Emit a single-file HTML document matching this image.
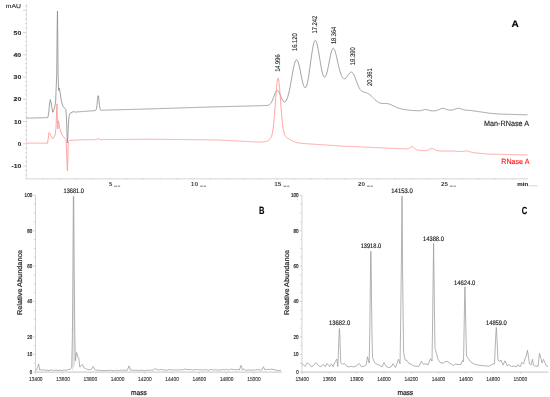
<!DOCTYPE html>
<html><head><meta charset="utf-8"><style>
html,body{margin:0;padding:0;background:#fff;}
body{width:550px;height:397px;overflow:hidden;}
svg{display:block;font-family:"Liberation Sans", sans-serif;will-change:transform;text-rendering:geometricPrecision;}
</style></head><body>
<svg width="550" height="397" viewBox="0 0 550 397">
<rect width="550" height="397" fill="#fff"/>
<line x1="26.6" y1="3.5" x2="26.6" y2="178.5" stroke="#e4e4e4" stroke-width="1"/>
<line x1="26" y1="178.8" x2="528" y2="178.8" stroke="#e4e4e4" stroke-width="1.6"/>
<line x1="25.3" y1="174.95" x2="26.9" y2="174.95" stroke="#b8b8b8" stroke-width="0.7"/>
<line x1="25.3" y1="170.50" x2="26.9" y2="170.50" stroke="#b8b8b8" stroke-width="0.7"/>
<line x1="23.2" y1="166.05" x2="26.8" y2="166.05" stroke="#c8c8c8" stroke-width="0.8"/>
<line x1="25.3" y1="161.60" x2="26.9" y2="161.60" stroke="#b8b8b8" stroke-width="0.7"/>
<line x1="25.3" y1="157.15" x2="26.9" y2="157.15" stroke="#b8b8b8" stroke-width="0.7"/>
<line x1="25.3" y1="152.70" x2="26.9" y2="152.70" stroke="#b8b8b8" stroke-width="0.7"/>
<line x1="25.3" y1="148.25" x2="26.9" y2="148.25" stroke="#b8b8b8" stroke-width="0.7"/>
<line x1="23.2" y1="143.80" x2="26.8" y2="143.80" stroke="#c8c8c8" stroke-width="0.8"/>
<line x1="25.3" y1="139.35" x2="26.9" y2="139.35" stroke="#b8b8b8" stroke-width="0.7"/>
<line x1="25.3" y1="134.90" x2="26.9" y2="134.90" stroke="#b8b8b8" stroke-width="0.7"/>
<line x1="25.3" y1="130.45" x2="26.9" y2="130.45" stroke="#b8b8b8" stroke-width="0.7"/>
<line x1="25.3" y1="126.00" x2="26.9" y2="126.00" stroke="#b8b8b8" stroke-width="0.7"/>
<line x1="23.2" y1="121.55" x2="26.8" y2="121.55" stroke="#c8c8c8" stroke-width="0.8"/>
<line x1="25.3" y1="117.10" x2="26.9" y2="117.10" stroke="#b8b8b8" stroke-width="0.7"/>
<line x1="25.3" y1="112.65" x2="26.9" y2="112.65" stroke="#b8b8b8" stroke-width="0.7"/>
<line x1="25.3" y1="108.20" x2="26.9" y2="108.20" stroke="#b8b8b8" stroke-width="0.7"/>
<line x1="25.3" y1="103.75" x2="26.9" y2="103.75" stroke="#b8b8b8" stroke-width="0.7"/>
<line x1="23.2" y1="99.30" x2="26.8" y2="99.30" stroke="#c8c8c8" stroke-width="0.8"/>
<line x1="25.3" y1="94.85" x2="26.9" y2="94.85" stroke="#b8b8b8" stroke-width="0.7"/>
<line x1="25.3" y1="90.40" x2="26.9" y2="90.40" stroke="#b8b8b8" stroke-width="0.7"/>
<line x1="25.3" y1="85.95" x2="26.9" y2="85.95" stroke="#b8b8b8" stroke-width="0.7"/>
<line x1="25.3" y1="81.50" x2="26.9" y2="81.50" stroke="#b8b8b8" stroke-width="0.7"/>
<line x1="23.2" y1="77.05" x2="26.8" y2="77.05" stroke="#c8c8c8" stroke-width="0.8"/>
<line x1="25.3" y1="72.60" x2="26.9" y2="72.60" stroke="#b8b8b8" stroke-width="0.7"/>
<line x1="25.3" y1="68.15" x2="26.9" y2="68.15" stroke="#b8b8b8" stroke-width="0.7"/>
<line x1="25.3" y1="63.70" x2="26.9" y2="63.70" stroke="#b8b8b8" stroke-width="0.7"/>
<line x1="25.3" y1="59.25" x2="26.9" y2="59.25" stroke="#b8b8b8" stroke-width="0.7"/>
<line x1="23.2" y1="54.80" x2="26.8" y2="54.80" stroke="#c8c8c8" stroke-width="0.8"/>
<line x1="25.3" y1="50.35" x2="26.9" y2="50.35" stroke="#b8b8b8" stroke-width="0.7"/>
<line x1="25.3" y1="45.90" x2="26.9" y2="45.90" stroke="#b8b8b8" stroke-width="0.7"/>
<line x1="25.3" y1="41.45" x2="26.9" y2="41.45" stroke="#b8b8b8" stroke-width="0.7"/>
<line x1="25.3" y1="37.00" x2="26.9" y2="37.00" stroke="#b8b8b8" stroke-width="0.7"/>
<line x1="23.2" y1="32.55" x2="26.8" y2="32.55" stroke="#c8c8c8" stroke-width="0.8"/>
<line x1="25.3" y1="28.10" x2="26.9" y2="28.10" stroke="#b8b8b8" stroke-width="0.7"/>
<line x1="25.3" y1="23.65" x2="26.9" y2="23.65" stroke="#b8b8b8" stroke-width="0.7"/>
<line x1="25.3" y1="19.20" x2="26.9" y2="19.20" stroke="#b8b8b8" stroke-width="0.7"/>
<line x1="25.3" y1="14.75" x2="26.9" y2="14.75" stroke="#b8b8b8" stroke-width="0.7"/>
<line x1="23.2" y1="10.30" x2="26.8" y2="10.30" stroke="#c8c8c8" stroke-width="0.8"/>
<line x1="25.3" y1="5.85" x2="26.9" y2="5.85" stroke="#b8b8b8" stroke-width="0.7"/>
<line x1="26.00" y1="178.0" x2="26.00" y2="179.6" stroke="#cfcfcf" stroke-width="0.7"/>
<line x1="42.76" y1="178.0" x2="42.76" y2="179.6" stroke="#cfcfcf" stroke-width="0.7"/>
<line x1="59.52" y1="178.0" x2="59.52" y2="179.6" stroke="#cfcfcf" stroke-width="0.7"/>
<line x1="76.28" y1="178.0" x2="76.28" y2="179.6" stroke="#cfcfcf" stroke-width="0.7"/>
<line x1="93.04" y1="178.0" x2="93.04" y2="179.6" stroke="#cfcfcf" stroke-width="0.7"/>
<line x1="109.80" y1="178.0" x2="109.80" y2="179.6" stroke="#cfcfcf" stroke-width="0.7"/>
<line x1="126.56" y1="178.0" x2="126.56" y2="179.6" stroke="#cfcfcf" stroke-width="0.7"/>
<line x1="143.32" y1="178.0" x2="143.32" y2="179.6" stroke="#cfcfcf" stroke-width="0.7"/>
<line x1="160.08" y1="178.0" x2="160.08" y2="179.6" stroke="#cfcfcf" stroke-width="0.7"/>
<line x1="176.84" y1="178.0" x2="176.84" y2="179.6" stroke="#cfcfcf" stroke-width="0.7"/>
<line x1="193.60" y1="178.0" x2="193.60" y2="179.6" stroke="#cfcfcf" stroke-width="0.7"/>
<line x1="210.36" y1="178.0" x2="210.36" y2="179.6" stroke="#cfcfcf" stroke-width="0.7"/>
<line x1="227.12" y1="178.0" x2="227.12" y2="179.6" stroke="#cfcfcf" stroke-width="0.7"/>
<line x1="243.88" y1="178.0" x2="243.88" y2="179.6" stroke="#cfcfcf" stroke-width="0.7"/>
<line x1="260.64" y1="178.0" x2="260.64" y2="179.6" stroke="#cfcfcf" stroke-width="0.7"/>
<line x1="277.40" y1="178.0" x2="277.40" y2="179.6" stroke="#cfcfcf" stroke-width="0.7"/>
<line x1="294.16" y1="178.0" x2="294.16" y2="179.6" stroke="#cfcfcf" stroke-width="0.7"/>
<line x1="310.92" y1="178.0" x2="310.92" y2="179.6" stroke="#cfcfcf" stroke-width="0.7"/>
<line x1="327.68" y1="178.0" x2="327.68" y2="179.6" stroke="#cfcfcf" stroke-width="0.7"/>
<line x1="344.44" y1="178.0" x2="344.44" y2="179.6" stroke="#cfcfcf" stroke-width="0.7"/>
<line x1="361.20" y1="178.0" x2="361.20" y2="179.6" stroke="#cfcfcf" stroke-width="0.7"/>
<line x1="377.96" y1="178.0" x2="377.96" y2="179.6" stroke="#cfcfcf" stroke-width="0.7"/>
<line x1="394.72" y1="178.0" x2="394.72" y2="179.6" stroke="#cfcfcf" stroke-width="0.7"/>
<line x1="411.48" y1="178.0" x2="411.48" y2="179.6" stroke="#cfcfcf" stroke-width="0.7"/>
<line x1="428.24" y1="178.0" x2="428.24" y2="179.6" stroke="#cfcfcf" stroke-width="0.7"/>
<line x1="445.00" y1="178.0" x2="445.00" y2="179.6" stroke="#cfcfcf" stroke-width="0.7"/>
<line x1="461.76" y1="178.0" x2="461.76" y2="179.6" stroke="#cfcfcf" stroke-width="0.7"/>
<line x1="478.52" y1="178.0" x2="478.52" y2="179.6" stroke="#cfcfcf" stroke-width="0.7"/>
<line x1="495.28" y1="178.0" x2="495.28" y2="179.6" stroke="#cfcfcf" stroke-width="0.7"/>
<line x1="512.04" y1="178.0" x2="512.04" y2="179.6" stroke="#cfcfcf" stroke-width="0.7"/>
<text x="13.60" y="34.65" font-size="5.7" font-weight="bold" fill="#2a2a2a" stroke="#2a2a2a" stroke-width="0.12" textLength="7.60" lengthAdjust="spacingAndGlyphs">50</text>
<text x="13.50" y="57.05" font-size="5.7" font-weight="bold" fill="#2a2a2a" stroke="#2a2a2a" stroke-width="0.12" textLength="7.70" lengthAdjust="spacingAndGlyphs">40</text>
<text x="13.60" y="79.15" font-size="5.7" font-weight="bold" fill="#2a2a2a" stroke="#2a2a2a" stroke-width="0.12" textLength="7.60" lengthAdjust="spacingAndGlyphs">30</text>
<text x="13.60" y="101.35" font-size="5.7" font-weight="bold" fill="#2a2a2a" stroke="#2a2a2a" stroke-width="0.12" textLength="7.60" lengthAdjust="spacingAndGlyphs">20</text>
<text x="14.00" y="123.55" font-size="5.7" font-weight="bold" fill="#2a2a2a" stroke="#2a2a2a" stroke-width="0.12" textLength="7.30" lengthAdjust="spacingAndGlyphs">10</text>
<text x="17.80" y="145.75" font-size="5.7" font-weight="bold" fill="#2a2a2a" stroke="#2a2a2a" stroke-width="0.12" textLength="3.40" lengthAdjust="spacingAndGlyphs">0</text>
<text x="11.60" y="168.05" font-size="5.7" font-weight="bold" fill="#2a2a2a" stroke="#2a2a2a" stroke-width="0.12" textLength="9.70" lengthAdjust="spacingAndGlyphs">-10</text>
<text x="5.80" y="7.60" font-size="5.8" fill="#333" stroke="#333" stroke-width="0.15" textLength="15.20" lengthAdjust="spacingAndGlyphs">mAU</text>
<text x="108.90" y="186.10" font-size="5.8" font-weight="bold" fill="#4a4a4a" textLength="3.30" lengthAdjust="spacingAndGlyphs">5</text>
<line x1="113.70" y1="186.2" x2="120.40" y2="186.2" stroke="#dedede" stroke-width="0.9"/>
<line x1="114.30" y1="186.2" x2="117.00" y2="186.2" stroke="#6a6a6a" stroke-width="0.8"/>
<line x1="118.00" y1="186.2" x2="120.10" y2="186.2" stroke="#6a6a6a" stroke-width="0.8"/>
<text x="190.80" y="186.10" font-size="5.8" font-weight="bold" fill="#4a4a4a" textLength="7.30" lengthAdjust="spacingAndGlyphs">10</text>
<line x1="199.60" y1="186.2" x2="206.30" y2="186.2" stroke="#dedede" stroke-width="0.9"/>
<line x1="200.20" y1="186.2" x2="202.90" y2="186.2" stroke="#6a6a6a" stroke-width="0.8"/>
<line x1="203.90" y1="186.2" x2="206.00" y2="186.2" stroke="#6a6a6a" stroke-width="0.8"/>
<text x="274.20" y="186.10" font-size="5.8" font-weight="bold" fill="#4a4a4a" textLength="7.20" lengthAdjust="spacingAndGlyphs">15</text>
<line x1="282.90" y1="186.2" x2="289.60" y2="186.2" stroke="#dedede" stroke-width="0.9"/>
<line x1="283.50" y1="186.2" x2="286.20" y2="186.2" stroke="#6a6a6a" stroke-width="0.8"/>
<line x1="287.20" y1="186.2" x2="289.30" y2="186.2" stroke="#6a6a6a" stroke-width="0.8"/>
<text x="357.90" y="186.10" font-size="5.8" font-weight="bold" fill="#4a4a4a" textLength="7.10" lengthAdjust="spacingAndGlyphs">20</text>
<line x1="366.50" y1="186.2" x2="373.20" y2="186.2" stroke="#dedede" stroke-width="0.9"/>
<line x1="367.10" y1="186.2" x2="369.80" y2="186.2" stroke="#6a6a6a" stroke-width="0.8"/>
<line x1="370.80" y1="186.2" x2="372.90" y2="186.2" stroke="#6a6a6a" stroke-width="0.8"/>
<text x="440.90" y="186.10" font-size="5.8" font-weight="bold" fill="#4a4a4a" textLength="7.00" lengthAdjust="spacingAndGlyphs">25</text>
<line x1="449.40" y1="186.2" x2="456.10" y2="186.2" stroke="#dedede" stroke-width="0.9"/>
<line x1="450.00" y1="186.2" x2="452.70" y2="186.2" stroke="#6a6a6a" stroke-width="0.8"/>
<line x1="453.70" y1="186.2" x2="455.80" y2="186.2" stroke="#6a6a6a" stroke-width="0.8"/>
<text x="517.30" y="186.00" font-size="5.6" font-weight="bold" fill="#2a2a2a" stroke="#2a2a2a" stroke-width="0.1" textLength="10.90" lengthAdjust="spacingAndGlyphs">min</text>
<line x1="528.5" y1="185.8" x2="537.5" y2="185.8" stroke="#ccc" stroke-width="0.8"/>
<path d="M26.50,118.20 L27.00,118.19 L27.50,118.17 L28.00,118.16 L28.50,118.14 L29.00,118.13 L29.50,118.12 L30.00,118.10 L30.50,118.09 L31.00,118.07 L31.50,118.06 L32.00,118.05 L32.50,118.03 L33.00,118.02 L33.50,118.00 L34.00,117.99 L34.50,117.98 L35.00,117.96 L35.50,117.95 L36.00,117.93 L36.50,117.92 L37.00,117.91 L37.50,117.89 L38.00,117.88 L38.50,117.86 L39.00,117.85 L39.50,117.84 L40.00,117.82 L40.50,117.81 L41.00,117.79 L41.50,117.78 L42.00,117.77 L42.50,117.75 L43.00,117.74 L43.50,117.72 L44.00,117.71 L44.50,117.70 L45.00,117.68 L45.50,117.67 L46.00,117.65 L46.50,117.64 L47.00,117.63 L47.50,117.61 L47.90,117.60 L48.80,112.00 L49.60,103.00 L50.40,99.50 L51.30,104.00 L52.70,112.30 L54.00,109.50 L54.70,107.20 L55.60,102.00 L56.70,75.00 L57.15,30.00 L57.45,11.00 L57.70,30.00 L58.10,75.00 L58.60,90.50 L59.30,87.90 L60.20,93.00 L61.20,100.00 L62.60,105.50 L64.50,108.20 L65.80,109.40 L66.50,118.00 L67.00,135.00 L67.40,143.00 L67.90,136.00 L68.40,124.00 L69.20,115.50 L70.50,112.80 L72.00,112.30 L74.00,111.40 L74.50,112.12 L75.00,112.08 L75.50,112.04 L76.00,112.00 L76.50,111.97 L77.00,111.93 L77.50,111.89 L78.00,111.86 L78.50,111.82 L79.00,111.78 L79.50,111.75 L80.00,111.71 L80.50,111.67 L81.00,111.63 L81.50,111.60 L82.00,111.56 L82.50,111.52 L83.00,111.49 L83.50,111.45 L84.00,111.41 L84.50,111.38 L85.00,111.34 L85.50,111.30 L86.00,111.27 L86.50,111.23 L87.00,111.19 L87.50,111.15 L88.00,111.12 L88.50,111.08 L89.00,111.04 L89.50,111.01 L90.00,110.97 L90.50,110.93 L91.00,110.90 L91.50,110.86 L92.00,110.82 L92.50,110.78 L93.00,110.75 L93.50,110.71 L94.00,110.67 L94.50,110.64 L95.00,110.59 L95.50,110.47 L96.00,110.01 L96.50,108.44 L97.00,104.84 L97.50,99.56 L98.00,95.55 L98.50,96.02 L99.00,100.55 L99.50,105.59 L100.00,108.69 L100.50,109.89 L101.00,110.19 L101.50,110.22 L102.00,110.20 L102.50,110.19 L103.00,110.17 L103.50,110.16 L104.00,110.15 L104.50,110.13 L105.00,110.12 L105.50,110.11 L106.00,110.09 L106.50,110.08 L107.00,110.06 L107.50,110.05 L108.00,110.04 L108.50,110.02 L109.00,110.01 L109.50,110.00 L110.00,109.98 L110.50,109.97 L111.00,109.96 L111.50,109.94 L112.00,109.93 L112.50,109.92 L113.00,109.90 L113.50,109.89 L114.00,109.88 L114.50,109.86 L115.00,109.85 L115.50,109.83 L116.00,109.82 L116.50,109.81 L117.00,109.79 L117.50,109.78 L118.00,109.77 L118.50,109.75 L119.00,109.74 L119.50,109.73 L120.00,109.71 L120.50,109.70 L121.00,109.69 L121.50,109.67 L122.00,109.66 L122.50,109.64 L123.00,109.63 L123.50,109.62 L124.00,109.60 L124.50,109.59 L125.00,109.58 L125.50,109.56 L126.00,109.55 L126.50,109.54 L127.00,109.52 L127.50,109.51 L128.00,109.50 L128.50,109.48 L129.00,109.47 L129.50,109.46 L130.00,109.44 L130.50,109.43 L131.00,109.41 L131.50,109.40 L132.00,109.39 L132.50,109.37 L133.00,109.36 L133.50,109.35 L134.00,109.33 L134.50,109.32 L135.00,109.31 L135.50,109.29 L136.00,109.28 L136.50,109.27 L137.00,109.25 L137.50,109.24 L138.00,109.23 L138.50,109.21 L139.00,109.20 L139.50,109.18 L140.00,109.17 L140.50,109.16 L141.00,109.14 L141.50,109.13 L142.00,109.12 L142.50,109.10 L143.00,109.09 L143.50,109.08 L144.00,109.06 L144.50,109.05 L145.00,109.04 L145.50,109.02 L146.00,109.01 L146.50,108.99 L147.00,108.98 L147.50,108.97 L148.00,108.95 L148.50,108.94 L149.00,108.93 L149.50,108.91 L150.00,108.90 L150.50,108.88 L151.00,108.87 L151.50,108.85 L152.00,108.84 L152.50,108.82 L153.00,108.80 L153.50,108.79 L154.00,108.77 L154.50,108.76 L155.00,108.74 L155.50,108.73 L156.00,108.71 L156.50,108.69 L157.00,108.68 L157.50,108.66 L158.00,108.65 L158.50,108.63 L159.00,108.61 L159.50,108.60 L160.00,108.58 L160.50,108.57 L161.00,108.55 L161.50,108.53 L162.00,108.52 L162.50,108.50 L163.00,108.49 L163.50,108.47 L164.00,108.46 L164.50,108.44 L165.00,108.42 L165.50,108.41 L166.00,108.39 L166.50,108.38 L167.00,108.36 L167.50,108.34 L168.00,108.33 L168.50,108.31 L169.00,108.30 L169.50,108.28 L170.00,108.27 L170.50,108.25 L171.00,108.23 L171.50,108.22 L172.00,108.20 L172.50,108.19 L173.00,108.17 L173.50,108.15 L174.00,108.14 L174.50,108.12 L175.00,108.11 L175.50,108.09 L176.00,108.07 L176.50,108.06 L177.00,108.04 L177.50,108.03 L178.00,108.01 L178.50,108.00 L179.00,107.98 L179.50,107.96 L180.00,107.95 L180.50,107.93 L181.00,107.92 L181.50,107.90 L182.00,107.88 L182.50,107.87 L183.00,107.85 L183.50,107.84 L184.00,107.82 L184.50,107.80 L185.00,107.79 L185.50,107.77 L186.00,107.76 L186.50,107.74 L187.00,107.73 L187.50,107.71 L188.00,107.69 L188.50,107.68 L189.00,107.66 L189.50,107.65 L190.00,107.63 L190.50,107.61 L191.00,107.60 L191.50,107.58 L192.00,107.57 L192.50,107.55 L193.00,107.53 L193.50,107.52 L194.00,107.50 L194.50,107.49 L195.00,107.47 L195.50,107.46 L196.00,107.44 L196.50,107.42 L197.00,107.41 L197.50,107.39 L198.00,107.38 L198.50,107.36 L199.00,107.34 L199.50,107.33 L200.00,107.31 L200.50,107.30 L201.00,107.28 L201.50,107.27 L202.00,107.25 L202.50,107.23 L203.00,107.22 L203.50,107.20 L204.00,107.19 L204.50,107.17 L205.00,107.15 L205.50,107.14 L206.00,107.12 L206.50,107.11 L207.00,107.09 L207.50,107.07 L208.00,107.06 L208.50,107.04 L209.00,107.03 L209.50,107.01 L210.00,107.00 L210.50,106.98 L211.00,106.96 L211.50,106.95 L212.00,106.93 L212.50,106.92 L213.00,106.90 L213.50,106.89 L214.00,106.87 L214.50,106.86 L215.00,106.85 L215.50,106.84 L216.00,106.82 L216.50,106.81 L217.00,106.80 L217.50,106.79 L218.00,106.77 L218.50,106.76 L219.00,106.75 L219.50,106.74 L220.00,106.72 L220.50,106.71 L221.00,106.70 L221.50,106.69 L222.00,106.67 L222.50,106.66 L223.00,106.65 L223.50,106.63 L224.00,106.62 L224.50,106.61 L225.00,106.60 L225.50,106.58 L226.00,106.57 L226.50,106.56 L227.00,106.55 L227.50,106.53 L228.00,106.52 L228.50,106.51 L229.00,106.50 L229.50,106.48 L230.00,106.47 L230.50,106.46 L231.00,106.45 L231.50,106.43 L232.00,106.42 L232.50,106.41 L233.00,106.40 L233.50,106.38 L234.00,106.37 L234.50,106.36 L235.00,106.34 L235.50,106.33 L236.00,106.32 L236.50,106.31 L237.00,106.29 L237.50,106.28 L238.00,106.27 L238.50,106.26 L239.00,106.24 L239.50,106.23 L240.00,106.22 L240.50,106.21 L241.00,106.19 L241.50,106.18 L242.00,106.17 L242.50,106.16 L243.00,106.14 L243.50,106.13 L244.00,106.12 L244.50,106.10 L245.00,106.09 L245.50,106.08 L246.00,106.07 L246.50,106.05 L247.00,106.04 L247.50,106.03 L248.00,106.02 L248.50,106.00 L249.00,105.99 L249.50,105.98 L250.00,105.97 L250.50,105.95 L251.00,105.94 L251.50,105.93 L252.00,105.92 L252.50,105.90 L253.00,105.89 L253.50,105.88 L254.00,105.87 L254.50,105.85 L255.00,105.84 L255.50,105.83 L256.00,105.81 L256.50,105.80 L257.00,105.79 L257.50,105.78 L258.00,105.76 L258.50,105.75 L259.00,105.74 L259.50,105.73 L260.00,105.71 L260.50,105.70 L261.00,105.69 L261.50,105.68 L262.00,105.66 L262.50,105.65 L263.00,105.64 L263.50,105.62 L264.00,105.61 L264.50,105.59 L265.00,105.58 L265.50,105.57 L266.00,105.55 L266.50,105.52 L267.00,105.47 L267.50,105.39 L268.00,105.27 L268.50,105.11 L269.00,104.87 L269.50,104.56 L270.00,104.14 L270.50,103.61 L271.00,102.94 L271.50,102.13 L272.00,101.17 L272.50,100.08 L273.00,98.87 L273.50,97.56 L274.00,96.21 L274.50,94.87 L275.00,93.60 L275.50,92.47 L276.00,91.53 L276.50,90.85 L277.00,90.47 L277.50,90.40 L278.00,90.65 L278.50,91.21 L279.00,92.04 L279.50,93.08 L280.00,94.28 L280.50,95.55 L281.00,96.84 L281.50,98.07 L282.00,99.20 L282.50,100.17 L283.00,100.96 L283.50,101.53 L284.00,101.88 L284.50,101.99 L285.00,101.87 L285.50,101.50 L286.00,100.89 L286.50,100.04 L287.00,98.94 L287.50,97.60 L288.00,96.01 L288.50,94.18 L289.00,92.13 L289.50,89.85 L290.00,87.38 L290.50,84.75 L291.00,81.99 L291.50,79.14 L292.00,76.27 L292.50,73.44 L293.00,70.71 L293.50,68.15 L294.00,65.83 L294.50,63.82 L295.00,62.16 L295.50,60.92 L296.00,60.13 L296.50,59.81 L297.00,59.97 L297.50,60.60 L298.00,61.67 L298.50,63.16 L299.00,64.99 L299.50,67.12 L300.00,69.47 L300.50,71.95 L301.00,74.50 L301.50,77.02 L302.00,79.42 L302.50,81.65 L303.00,83.61 L303.50,85.26 L304.00,86.54 L304.50,87.39 L305.00,87.80 L305.50,87.72 L306.00,87.15 L306.50,86.09 L307.00,84.54 L307.50,82.52 L308.00,80.07 L308.50,77.23 L309.00,74.05 L309.50,70.62 L310.00,66.99 L310.50,63.27 L311.00,59.54 L311.50,55.91 L312.00,52.46 L312.50,49.30 L313.00,46.52 L313.50,44.19 L314.00,42.39 L314.50,41.15 L315.00,40.51 L315.50,40.48 L316.00,41.05 L316.50,42.19 L317.00,43.85 L317.50,45.96 L318.00,48.46 L318.50,51.24 L319.00,54.22 L319.50,57.30 L320.00,60.40 L320.50,63.41 L321.00,66.26 L321.50,68.88 L322.00,71.21 L322.50,73.20 L323.00,74.81 L323.50,76.00 L324.00,76.77 L324.50,77.09 L325.00,76.98 L325.50,76.44 L326.00,75.47 L326.50,74.11 L327.00,72.40 L327.50,70.36 L328.00,68.06 L328.50,65.57 L329.00,62.96 L329.50,60.32 L330.00,57.74 L330.50,55.31 L331.00,53.12 L331.50,51.26 L332.00,49.80 L332.50,48.79 L333.00,48.27 L333.50,48.25 L334.00,48.71 L334.50,49.63 L335.00,50.95 L335.50,52.60 L336.00,54.53 L336.50,56.65 L337.00,58.88 L337.50,61.16 L338.00,63.42 L338.50,65.62 L339.00,67.71 L339.50,69.66 L340.00,71.44 L340.50,73.05 L341.00,74.46 L341.50,75.68 L342.00,76.70 L342.50,77.52 L343.00,78.13 L343.50,78.55 L344.00,78.77 L344.50,78.80 L345.00,78.66 L345.50,78.35 L346.00,77.89 L346.50,77.32 L347.00,76.65 L347.50,75.92 L348.00,75.16 L348.50,74.41 L349.00,73.72 L349.50,73.10 L350.00,72.61 L350.50,72.26 L351.00,72.09 L351.50,72.10 L352.00,72.32 L352.50,72.73 L353.00,73.35 L353.50,74.15 L354.00,75.11 L354.50,76.22 L355.00,77.43 L355.50,78.73 L356.00,80.07 L356.50,81.42 L357.00,82.75 L357.50,84.04 L358.00,85.26 L358.50,86.39 L359.00,87.42 L359.50,88.34 L360.00,89.14 L360.50,89.82 L361.00,90.40 L361.50,90.87 L362.00,91.25 L362.50,91.55 L363.00,91.79 L363.50,91.98 L364.00,92.13 L364.50,92.26 L365.00,92.38 L365.50,92.51 L366.00,92.64 L366.50,92.80 L367.00,92.98 L367.50,93.19 L368.00,93.44 L368.50,93.72 L369.00,94.04 L369.50,94.39 L370.00,94.78 L370.50,95.21 L371.00,95.65 L371.50,96.13 L372.00,96.62 L372.50,97.12 L373.00,97.63 L373.50,98.15 L374.00,98.66 L374.50,99.17 L375.00,99.66 L375.50,100.14 L376.00,100.59 L376.50,101.02 L377.00,101.41 L377.50,101.77 L378.00,102.10 L378.50,102.39 L379.00,102.65 L379.50,102.86 L380.00,103.04 L380.50,103.19 L381.00,103.30 L381.50,103.38 L382.00,103.43 L382.50,103.46 L383.00,103.48 L383.50,103.48 L384.00,103.47 L384.50,103.46 L385.00,103.46 L385.50,103.46 L386.00,103.47 L386.50,103.50 L387.00,103.55 L387.50,103.62 L388.00,103.71 L388.50,103.83 L389.00,103.97 L389.50,104.13 L390.00,104.31 L390.50,104.52 L391.00,104.73 L391.50,104.96 L392.00,105.19 L392.50,105.44 L393.00,105.68 L393.50,105.92 L394.00,106.15 L394.50,106.38 L395.00,106.65 L395.50,106.91 L396.00,107.15 L396.50,107.38 L397.00,107.60 L397.50,107.80 L398.00,107.98 L398.50,108.15 L399.00,108.31 L399.50,108.45 L400.00,108.59 L400.50,108.72 L401.00,108.84 L401.50,108.95 L402.00,109.05 L402.50,109.15 L403.00,109.24 L403.50,109.33 L404.00,109.41 L404.50,109.49 L405.00,109.57 L405.50,109.65 L406.00,109.72 L406.50,109.80 L407.00,109.87 L407.50,109.94 L408.00,110.02 L408.50,110.09 L409.00,110.16 L409.50,110.23 L410.00,110.30 L410.50,110.33 L411.00,110.36 L411.50,110.39 L412.00,110.42 L412.50,110.45 L413.00,110.48 L413.50,110.51 L414.00,110.54 L414.50,110.57 L415.00,110.60 L415.50,110.63 L416.00,110.66 L416.50,110.69 L417.00,110.71 L417.50,110.74 L418.00,110.76 L418.50,110.77 L419.00,110.77 L419.50,110.76 L420.00,110.74 L420.50,110.66 L421.00,110.57 L421.50,110.45 L422.00,110.30 L422.50,110.15 L423.00,109.99 L423.50,109.83 L424.00,109.69 L424.50,109.58 L425.00,109.52 L425.50,109.50 L426.00,109.54 L426.50,109.62 L427.00,109.74 L427.50,109.89 L428.00,110.05 L428.50,110.21 L429.00,110.36 L429.50,110.50 L430.00,110.61 L430.50,110.69 L431.00,110.76 L431.50,110.81 L432.00,110.84 L432.50,110.85 L433.00,110.86 L433.50,110.85 L434.00,110.84 L434.50,110.81 L435.00,110.75 L435.50,110.68 L436.00,110.59 L436.50,110.48 L437.00,110.34 L437.50,110.18 L438.00,110.00 L438.50,109.79 L439.00,109.57 L439.50,109.34 L440.00,109.10 L440.50,108.88 L441.00,108.69 L441.50,108.52 L442.00,108.40 L442.50,108.34 L443.00,108.33 L443.50,108.37 L444.00,108.47 L444.50,108.60 L445.00,108.77 L445.50,108.96 L446.00,109.16 L446.50,109.36 L447.00,109.55 L447.50,109.71 L448.00,109.85 L448.50,109.96 L449.00,110.05 L449.50,110.10 L450.00,110.14 L450.50,110.15 L451.00,110.14 L451.50,110.10 L452.00,110.03 L452.50,109.94 L453.00,109.82 L453.50,109.68 L454.00,109.52 L454.50,109.35 L455.00,109.16 L455.50,108.98 L456.00,108.80 L456.50,108.63 L457.00,108.49 L457.50,108.39 L458.00,108.32 L458.50,108.30 L459.00,108.32 L459.50,108.39 L460.00,108.49 L460.50,108.63 L461.00,108.80 L461.50,108.98 L462.00,109.16 L462.50,109.35 L463.00,109.53 L463.50,109.69 L464.00,109.83 L464.50,109.96 L465.00,110.06 L465.50,110.15 L466.00,110.22 L466.50,110.27 L467.00,110.31 L467.50,110.34 L468.00,110.36 L468.50,110.37 L469.00,110.38 L469.50,110.39 L470.00,110.39 L470.50,110.47 L471.00,110.54 L471.50,110.61 L472.00,110.68 L472.50,110.75 L473.00,110.82 L473.50,110.89 L474.00,110.96 L474.50,111.03 L475.00,111.10 L475.50,111.17 L476.00,111.24 L476.50,111.31 L477.00,111.38 L477.50,111.45 L478.00,111.52 L478.50,111.59 L479.00,111.66 L479.50,111.73 L480.00,111.80 L480.50,111.87 L481.00,111.95 L481.50,112.02 L482.00,112.10 L482.50,112.17 L483.00,112.25 L483.50,112.32 L484.00,112.40 L484.50,112.47 L485.00,112.55 L485.50,112.62 L486.00,112.70 L486.50,112.77 L487.00,112.85 L487.50,112.92 L488.00,113.00 L488.50,113.08 L489.00,113.15 L489.50,113.22 L490.00,113.30 L490.50,113.34 L491.00,113.38 L491.50,113.42 L492.00,113.46 L492.50,113.50 L493.00,113.54 L493.50,113.58 L494.00,113.62 L494.50,113.66 L495.00,113.70 L495.50,113.74 L496.00,113.78 L496.50,113.82 L497.00,113.86 L497.50,113.90 L498.00,113.94 L498.50,113.98 L499.00,114.02 L499.50,114.06 L500.00,114.10 L500.50,114.11 L501.00,114.13 L501.50,114.14 L502.00,114.15 L502.50,114.16 L503.00,114.18 L503.50,114.19 L504.00,114.20 L504.50,114.21 L505.00,114.23 L505.50,114.24 L506.00,114.25 L506.50,114.27 L507.00,114.28 L507.50,114.29 L508.00,114.30 L508.50,114.32 L509.00,114.33 L509.50,114.34 L510.00,114.35 L510.50,114.37 L511.00,114.38 L511.50,114.39 L512.00,114.41 L512.50,114.42 L513.00,114.43 L513.50,114.44 L514.00,114.46 L514.50,114.47 L515.00,114.48 L515.50,114.49 L516.00,114.51 L516.50,114.52 L517.00,114.53 L517.50,114.55 L518.00,114.56 L518.50,114.57 L519.00,114.58 L519.50,114.60 L520.00,114.61 L520.50,114.62 L521.00,114.63 L521.50,114.65 L522.00,114.66 L522.50,114.67 L523.00,114.69 L523.50,114.70 L524.00,114.71 L524.50,114.72 L525.00,114.74 L525.50,114.75 L526.00,114.76 L526.50,114.77 L527.00,114.79 L527.50,114.80" fill="none" stroke="#8a8a8a" stroke-width="0.8" stroke-linejoin="round"/>
<path d="M26.50,143.10 L27.00,143.10 L27.50,143.10 L28.00,143.11 L28.50,143.11 L29.00,143.11 L29.50,143.11 L30.00,143.12 L30.50,143.12 L31.00,143.12 L31.50,143.12 L32.00,143.13 L32.50,143.13 L33.00,143.13 L33.50,143.13 L34.00,143.14 L34.50,143.14 L35.00,143.14 L35.50,143.14 L36.00,143.15 L36.50,143.15 L37.00,143.15 L37.50,143.15 L38.00,143.15 L38.50,143.16 L39.00,143.16 L39.50,143.16 L40.00,143.16 L40.50,143.17 L41.00,143.17 L41.50,143.17 L42.00,143.17 L42.50,143.18 L43.00,143.18 L43.50,143.18 L44.00,143.18 L44.50,143.19 L45.00,143.19 L45.50,143.19 L46.00,143.19 L46.50,143.20 L47.00,143.20 L47.50,143.20 L48.30,138.00 L49.00,132.50 L50.00,133.80 L51.50,137.00 L52.80,138.70 L54.00,137.00 L55.10,134.90 L56.00,128.00 L56.60,112.00 L57.00,103.80 L57.40,118.00 L57.80,129.00 L58.50,120.80 L59.50,127.00 L60.80,132.00 L62.60,135.80 L64.50,138.00 L66.00,139.60 L66.60,150.00 L67.10,165.00 L67.40,170.80 L67.80,160.00 L68.30,141.50 L69.50,140.30 L72.00,140.20 L72.50,140.31 L73.00,140.28 L73.50,140.24 L74.00,140.21 L74.50,140.18 L75.00,140.14 L75.50,140.11 L76.00,140.07 L76.50,140.04 L77.00,140.01 L77.50,139.97 L78.00,139.94 L78.50,139.90 L79.00,139.87 L79.50,139.83 L80.00,139.80 L80.50,139.80 L81.00,139.79 L81.50,139.79 L82.00,139.78 L82.50,139.78 L83.00,139.77 L83.50,139.77 L84.00,139.77 L84.50,139.76 L85.00,139.76 L85.50,139.75 L86.00,139.75 L86.50,139.74 L87.00,139.74 L87.50,139.74 L88.00,139.73 L88.50,139.73 L89.00,139.72 L89.50,139.72 L90.00,139.71 L90.50,139.71 L91.00,139.71 L91.50,139.70 L92.00,139.70 L92.50,139.69 L93.00,139.69 L93.50,139.68 L94.00,139.68 L94.50,139.68 L95.00,139.67 L95.50,139.65 L96.00,139.60 L96.50,139.46 L97.00,139.16 L97.50,138.76 L98.00,138.47 L98.50,138.51 L99.00,138.83 L99.50,139.21 L100.00,139.47 L100.50,139.58 L101.00,139.61 L101.50,139.61 L102.00,139.61 L102.50,139.61 L103.00,139.60 L103.50,139.60 L104.00,139.59 L104.50,139.59 L105.00,139.59 L105.50,139.58 L106.00,139.58 L106.50,139.57 L107.00,139.57 L107.50,139.56 L108.00,139.56 L108.50,139.56 L109.00,139.55 L109.50,139.55 L110.00,139.54 L110.50,139.54 L111.00,139.53 L111.50,139.53 L112.00,139.53 L112.50,139.52 L113.00,139.52 L113.50,139.51 L114.00,139.51 L114.50,139.50 L115.00,139.50 L115.50,139.50 L116.00,139.49 L116.50,139.49 L117.00,139.48 L117.50,139.48 L118.00,139.47 L118.50,139.47 L119.00,139.47 L119.50,139.46 L120.00,139.46 L120.50,139.45 L121.00,139.45 L121.50,139.44 L122.00,139.44 L122.50,139.44 L123.00,139.43 L123.50,139.43 L124.00,139.42 L124.50,139.42 L125.00,139.41 L125.50,139.41 L126.00,139.41 L126.50,139.40 L127.00,139.40 L127.50,139.39 L128.00,139.39 L128.50,139.38 L129.00,139.38 L129.50,139.38 L130.00,139.37 L130.50,139.37 L131.00,139.36 L131.50,139.36 L132.00,139.35 L132.50,139.35 L133.00,139.35 L133.50,139.34 L134.00,139.34 L134.50,139.33 L135.00,139.33 L135.50,139.32 L136.00,139.32 L136.50,139.32 L137.00,139.31 L137.50,139.31 L138.00,139.30 L138.50,139.30 L139.00,139.29 L139.50,139.29 L140.00,139.29 L140.50,139.28 L141.00,139.28 L141.50,139.27 L142.00,139.27 L142.50,139.26 L143.00,139.26 L143.50,139.26 L144.00,139.25 L144.50,139.25 L145.00,139.24 L145.50,139.24 L146.00,139.23 L146.50,139.23 L147.00,139.23 L147.50,139.22 L148.00,139.22 L148.50,139.21 L149.00,139.21 L149.50,139.20 L150.00,139.20 L150.50,139.21 L151.00,139.21 L151.50,139.22 L152.00,139.22 L152.50,139.23 L153.00,139.23 L153.50,139.24 L154.00,139.25 L154.50,139.25 L155.00,139.26 L155.50,139.26 L156.00,139.27 L156.50,139.28 L157.00,139.28 L157.50,139.29 L158.00,139.29 L158.50,139.30 L159.00,139.30 L159.50,139.31 L160.00,139.32 L160.50,139.32 L161.00,139.33 L161.50,139.33 L162.00,139.34 L162.50,139.35 L163.00,139.35 L163.50,139.36 L164.00,139.36 L164.50,139.37 L165.00,139.37 L165.50,139.38 L166.00,139.39 L166.50,139.39 L167.00,139.40 L167.50,139.40 L168.00,139.41 L168.50,139.42 L169.00,139.42 L169.50,139.43 L170.00,139.43 L170.50,139.44 L171.00,139.44 L171.50,139.45 L172.00,139.46 L172.50,139.46 L173.00,139.47 L173.50,139.47 L174.00,139.48 L174.50,139.49 L175.00,139.49 L175.50,139.50 L176.00,139.50 L176.50,139.51 L177.00,139.51 L177.50,139.52 L178.00,139.53 L178.50,139.53 L179.00,139.54 L179.50,139.54 L180.00,139.55 L180.50,139.56 L181.00,139.56 L181.50,139.57 L182.00,139.57 L182.50,139.58 L183.00,139.58 L183.50,139.59 L184.00,139.60 L184.50,139.60 L185.00,139.61 L185.50,139.61 L186.00,139.62 L186.50,139.63 L187.00,139.63 L187.50,139.64 L188.00,139.64 L188.50,139.65 L189.00,139.65 L189.50,139.66 L190.00,139.67 L190.50,139.67 L191.00,139.68 L191.50,139.68 L192.00,139.69 L192.50,139.69 L193.00,139.70 L193.50,139.71 L194.00,139.71 L194.50,139.72 L195.00,139.72 L195.50,139.73 L196.00,139.74 L196.50,139.74 L197.00,139.75 L197.50,139.75 L198.00,139.76 L198.50,139.76 L199.00,139.77 L199.50,139.78 L200.00,139.78 L200.50,139.79 L201.00,139.79 L201.50,139.80 L202.00,139.81 L202.50,139.81 L203.00,139.82 L203.50,139.82 L204.00,139.83 L204.50,139.83 L205.00,139.84 L205.50,139.85 L206.00,139.85 L206.50,139.86 L207.00,139.86 L207.50,139.87 L208.00,139.88 L208.50,139.88 L209.00,139.89 L209.50,139.89 L210.00,139.90 L210.50,139.90 L211.00,139.91 L211.50,139.92 L212.00,139.92 L212.50,139.93 L213.00,139.93 L213.50,139.94 L214.00,139.95 L214.50,139.95 L215.00,139.96 L215.50,139.96 L216.00,139.97 L216.50,139.97 L217.00,139.98 L217.50,139.99 L218.00,139.99 L218.50,140.00 L219.00,140.02 L219.50,140.04 L220.00,140.07 L220.50,140.09 L221.00,140.12 L221.50,140.15 L222.00,140.17 L222.50,140.20 L223.00,140.23 L223.50,140.25 L224.00,140.28 L224.50,140.30 L225.00,140.33 L225.50,140.36 L226.00,140.38 L226.50,140.41 L227.00,140.43 L227.50,140.46 L228.00,140.49 L228.50,140.51 L229.00,140.54 L229.50,140.57 L230.00,140.59 L230.50,140.62 L231.00,140.64 L231.50,140.67 L232.00,140.70 L232.50,140.72 L233.00,140.75 L233.50,140.77 L234.00,140.80 L234.50,140.83 L235.00,140.85 L235.50,140.88 L236.00,140.91 L236.50,140.93 L237.00,140.96 L237.50,140.98 L238.00,141.01 L238.50,141.04 L239.00,141.06 L239.50,141.09 L240.00,141.12 L240.50,141.14 L241.00,141.17 L241.50,141.19 L242.00,141.22 L242.50,141.25 L243.00,141.27 L243.50,141.30 L244.00,141.32 L244.50,141.35 L245.00,141.38 L245.50,141.40 L246.00,141.43 L246.50,141.46 L247.00,141.48 L247.50,141.51 L248.00,141.53 L248.50,141.56 L249.00,141.59 L249.50,141.61 L250.00,141.64 L250.50,141.66 L251.00,141.69 L251.50,141.72 L252.00,141.74 L252.50,141.77 L253.00,141.80 L253.50,141.82 L254.00,141.85 L254.50,141.87 L255.00,141.90 L255.50,141.93 L256.00,141.95 L256.50,141.98 L257.00,142.00 L257.50,142.00 L258.00,142.01 L258.50,142.01 L259.00,142.01 L259.50,142.01 L260.00,142.01 L260.50,142.00 L261.00,141.99 L261.50,141.98 L262.00,141.96 L262.50,141.94 L263.00,141.90 L263.50,141.86 L264.00,141.80 L264.50,141.74 L265.00,141.65 L265.50,141.55 L266.00,141.42 L266.50,141.27 L267.00,141.10 L267.50,140.90 L268.00,140.66 L268.50,140.37 L269.00,140.04 L269.50,139.63 L270.00,139.12 L270.50,138.45 L271.00,137.55 L271.50,136.33 L272.00,134.66 L272.50,132.39 L273.00,129.35 L273.50,125.42 L274.00,120.53 L274.50,114.70 L275.00,108.11 L275.50,101.08 L276.00,94.11 L276.50,87.76 L277.00,82.65 L277.50,79.30 L278.00,78.08 L278.50,79.11 L279.00,82.28 L279.50,87.20 L280.00,93.36 L280.50,100.16 L281.00,107.00 L281.50,113.42 L282.00,119.09 L282.50,123.83 L283.00,127.61 L283.50,130.51 L284.00,132.67 L284.50,134.23 L285.00,135.36 L285.50,136.18 L286.00,136.80 L286.50,137.29 L287.00,137.69 L287.50,138.06 L288.00,138.39 L288.50,138.70 L289.00,139.01 L289.50,139.31 L290.00,139.60 L290.50,139.88 L291.00,140.16 L291.50,140.43 L292.00,140.69 L292.50,140.94 L293.00,141.19 L293.50,141.42 L294.00,141.63 L294.50,141.83 L295.00,142.02 L295.50,142.19 L296.00,142.35 L296.50,142.49 L297.00,142.62 L297.50,142.74 L298.00,142.84 L298.50,142.93 L299.00,143.01 L299.50,143.07 L300.00,143.13 L300.50,143.19 L301.00,143.25 L301.50,143.30 L302.00,143.36 L302.50,143.40 L303.00,143.45 L303.50,143.49 L304.00,143.53 L304.50,143.56 L305.00,143.60 L305.50,143.64 L306.00,143.67 L306.50,143.71 L307.00,143.74 L307.50,143.78 L308.00,143.81 L308.50,143.84 L309.00,143.88 L309.50,143.91 L310.00,143.94 L310.50,143.98 L311.00,144.01 L311.50,144.05 L312.00,144.08 L312.50,144.11 L313.00,144.15 L313.50,144.18 L314.00,144.21 L314.50,144.25 L315.00,144.28 L315.50,144.31 L316.00,144.35 L316.50,144.38 L317.00,144.41 L317.50,144.45 L318.00,144.48 L318.50,144.52 L319.00,144.55 L319.50,144.58 L320.00,144.62 L320.50,144.65 L321.00,144.68 L321.50,144.72 L322.00,144.75 L322.50,144.78 L323.00,144.82 L323.50,144.85 L324.00,144.88 L324.50,144.92 L325.00,144.95 L325.50,144.98 L326.00,145.02 L326.50,145.05 L327.00,145.09 L327.50,145.12 L328.00,145.15 L328.50,145.19 L329.00,145.22 L329.50,145.25 L330.00,145.29 L330.50,145.32 L331.00,145.35 L331.50,145.39 L332.00,145.42 L332.50,145.45 L333.00,145.49 L333.50,145.52 L334.00,145.56 L334.50,145.59 L335.00,145.62 L335.50,145.66 L336.00,145.69 L336.50,145.72 L337.00,145.76 L337.50,145.79 L338.00,145.82 L338.50,145.86 L339.00,145.89 L339.50,145.92 L340.00,145.96 L340.50,145.99 L341.00,146.03 L341.50,146.06 L342.00,146.09 L342.50,146.13 L343.00,146.16 L343.50,146.19 L344.00,146.22 L344.50,146.24 L345.00,146.26 L345.50,146.28 L346.00,146.31 L346.50,146.33 L347.00,146.35 L347.50,146.37 L348.00,146.39 L348.50,146.42 L349.00,146.44 L349.50,146.46 L350.00,146.48 L350.50,146.50 L351.00,146.53 L351.50,146.55 L352.00,146.57 L352.50,146.59 L353.00,146.62 L353.50,146.64 L354.00,146.66 L354.50,146.68 L355.00,146.70 L355.50,146.73 L356.00,146.75 L356.50,146.77 L357.00,146.79 L357.50,146.81 L358.00,146.84 L358.50,146.86 L359.00,146.88 L359.50,146.90 L360.00,146.92 L360.50,146.95 L361.00,146.97 L361.50,146.99 L362.00,147.01 L362.50,147.04 L363.00,147.06 L363.50,147.08 L364.00,147.10 L364.50,147.12 L365.00,147.15 L365.50,147.17 L366.00,147.19 L366.50,147.21 L367.00,147.23 L367.50,147.26 L368.00,147.28 L368.50,147.30 L369.00,147.32 L369.50,147.34 L370.00,147.37 L370.50,147.39 L371.00,147.41 L371.50,147.43 L372.00,147.45 L372.50,147.48 L373.00,147.50 L373.50,147.52 L374.00,147.54 L374.50,147.57 L375.00,147.59 L375.50,147.61 L376.00,147.63 L376.50,147.65 L377.00,147.68 L377.50,147.70 L378.00,147.72 L378.50,147.74 L379.00,147.76 L379.50,147.79 L380.00,147.81 L380.50,147.83 L381.00,147.85 L381.50,147.87 L382.00,147.90 L382.50,147.92 L383.00,147.94 L383.50,147.96 L384.00,147.99 L384.50,148.01 L385.00,148.03 L385.50,148.05 L386.00,148.07 L386.50,148.10 L387.00,148.12 L387.50,148.14 L388.00,148.16 L388.50,148.18 L389.00,148.21 L389.50,148.23 L390.00,148.25 L390.50,148.27 L391.00,148.29 L391.50,148.32 L392.00,148.34 L392.50,148.36 L393.00,148.38 L393.50,148.41 L394.00,148.43 L394.50,148.45 L395.00,148.47 L395.50,148.49 L396.00,148.52 L396.50,148.54 L397.00,148.56 L397.50,148.58 L398.00,148.60 L398.50,148.63 L399.00,148.65 L399.50,148.67 L400.00,148.69 L400.50,148.71 L401.00,148.74 L401.50,148.76 L402.00,148.78 L402.50,148.80 L403.00,148.82 L403.50,148.85 L404.00,148.87 L404.50,148.88 L405.00,148.92 L405.50,148.95 L406.00,148.97 L406.50,148.98 L407.00,148.95 L407.50,148.88 L408.00,148.75 L408.50,148.55 L409.00,148.29 L409.50,147.97 L410.00,147.61 L410.50,147.26 L411.00,146.95 L411.50,146.73 L412.00,146.65 L412.50,146.71 L413.00,146.93 L413.50,147.27 L414.00,147.69 L414.50,148.15 L415.00,148.60 L415.50,149.01 L416.00,149.36 L416.50,149.64 L417.00,149.86 L417.50,150.02 L418.00,150.15 L418.50,150.24 L419.00,150.31 L419.50,150.38 L420.00,150.43 L420.50,150.49 L421.00,150.54 L421.50,150.59 L422.00,150.61 L422.50,150.62 L423.00,150.62 L423.50,150.63 L424.00,150.63 L424.50,150.63 L425.00,150.61 L425.50,150.58 L426.00,150.53 L426.50,150.45 L427.00,150.33 L427.50,150.18 L428.00,149.98 L428.50,149.74 L429.00,149.47 L429.50,149.19 L430.00,148.92 L430.50,148.69 L431.00,148.52 L431.50,148.42 L432.00,148.43 L432.50,148.52 L433.00,148.70 L433.50,148.94 L434.00,149.23 L434.50,149.53 L435.00,149.82 L435.50,150.09 L436.00,150.32 L436.50,150.50 L437.00,150.65 L437.50,150.75 L438.00,150.83 L438.50,150.89 L439.00,150.93 L439.50,150.95 L440.00,150.97 L440.50,150.99 L441.00,151.00 L441.50,151.00 L442.00,151.00 L442.50,151.00 L443.00,151.00 L443.50,151.00 L444.00,151.00 L444.50,151.00 L445.00,151.00 L445.50,151.00 L446.00,151.00 L446.50,151.00 L447.00,151.00 L447.50,151.00 L448.00,151.00 L448.50,151.00 L449.00,151.00 L449.50,151.00 L450.00,151.00 L450.50,151.00 L451.00,151.00 L451.50,151.00 L452.00,151.00 L452.50,151.00 L453.00,151.00 L453.50,151.01 L454.00,151.05 L454.50,151.10 L455.00,151.14 L455.50,151.18 L456.00,151.22 L456.50,151.27 L457.00,151.31 L457.50,151.35 L458.00,151.38 L458.50,151.42 L459.00,151.44 L459.50,151.46 L460.00,151.48 L460.50,151.48 L461.00,151.46 L461.50,151.44 L462.00,151.40 L462.50,151.34 L463.00,151.28 L463.50,151.20 L464.00,151.12 L464.50,151.05 L465.00,150.99 L465.50,150.95 L466.00,150.93 L466.50,150.94 L467.00,150.99 L467.50,151.07 L468.00,151.18 L468.50,151.31 L469.00,151.46 L469.50,151.63 L470.00,151.79 L470.50,151.95 L471.00,152.10 L471.50,152.24 L472.00,152.37 L472.50,152.48 L473.00,152.57 L473.50,152.66 L474.00,152.73 L474.50,152.80 L475.00,152.85 L475.50,152.91 L476.00,152.96 L476.50,153.01 L477.00,153.05 L477.50,153.10 L478.00,153.14 L478.50,153.19 L479.00,153.23 L479.50,153.27 L480.00,153.32 L480.50,153.36 L481.00,153.40 L481.50,153.45 L482.00,153.49 L482.50,153.53 L483.00,153.58 L483.50,153.62 L484.00,153.66 L484.50,153.71 L485.00,153.75 L485.50,153.80 L486.00,153.84 L486.50,153.88 L487.00,153.93 L487.50,153.97 L488.00,154.01 L488.50,154.06 L489.00,154.10 L489.50,154.11 L490.00,154.12 L490.50,154.13 L491.00,154.14 L491.50,154.15 L492.00,154.16 L492.50,154.17 L493.00,154.18 L493.50,154.19 L494.00,154.20 L494.50,154.21 L495.00,154.22 L495.50,154.24 L496.00,154.25 L496.50,154.26 L497.00,154.27 L497.50,154.28 L498.00,154.29 L498.50,154.30 L499.00,154.31 L499.50,154.32 L500.00,154.33 L500.50,154.34 L501.00,154.35 L501.50,154.36 L502.00,154.37 L502.50,154.38 L503.00,154.39 L503.50,154.40 L504.00,154.41 L504.50,154.42 L505.00,154.43 L505.50,154.44 L506.00,154.45 L506.50,154.46 L507.00,154.47 L507.50,154.48 L508.00,154.49 L508.50,154.51 L509.00,154.52 L509.50,154.53 L510.00,154.54 L510.50,154.55 L511.00,154.56 L511.50,154.57 L512.00,154.58 L512.50,154.59 L513.00,154.60 L513.50,154.61 L514.00,154.62 L514.50,154.63 L515.00,154.64 L515.50,154.65 L516.00,154.66 L516.50,154.67 L517.00,154.68 L517.50,154.69 L518.00,154.70 L518.50,154.71 L519.00,154.72 L519.50,154.73 L520.00,154.74 L520.50,154.75 L521.00,154.76 L521.50,154.78 L522.00,154.79 L522.50,154.80 L523.00,154.81 L523.50,154.82 L524.00,154.83 L524.50,154.84 L525.00,154.85 L525.50,154.86 L526.00,154.87 L526.50,154.88 L527.00,154.89 L527.50,154.90" fill="none" stroke="#ff8f8f" stroke-width="0.8" stroke-linejoin="round"/>
<text transform="translate(280.30,71.80) rotate(-90)" x="0" y="0" font-size="6.9" fill="#1e1e1e" stroke="#1e1e1e" stroke-width="0.12" textLength="17.40" lengthAdjust="spacingAndGlyphs">14.996</text>
<text transform="translate(297.40,51.10) rotate(-90)" x="0" y="0" font-size="6.9" fill="#1e1e1e" stroke="#1e1e1e" stroke-width="0.12" textLength="17.80" lengthAdjust="spacingAndGlyphs">16.120</text>
<text transform="translate(317.30,33.60) rotate(-90)" x="0" y="0" font-size="6.9" fill="#1e1e1e" stroke="#1e1e1e" stroke-width="0.12" textLength="17.90" lengthAdjust="spacingAndGlyphs">17.242</text>
<text transform="translate(336.10,44.10) rotate(-90)" x="0" y="0" font-size="6.9" fill="#1e1e1e" stroke="#1e1e1e" stroke-width="0.12" textLength="17.30" lengthAdjust="spacingAndGlyphs">18.364</text>
<text transform="translate(354.90,65.20) rotate(-90)" x="0" y="0" font-size="6.9" fill="#1e1e1e" stroke="#1e1e1e" stroke-width="0.12" textLength="18.00" lengthAdjust="spacingAndGlyphs">19.390</text>
<text transform="translate(371.50,86.00) rotate(-90)" x="0" y="0" font-size="6.9" fill="#1e1e1e" stroke="#1e1e1e" stroke-width="0.12" textLength="17.70" lengthAdjust="spacingAndGlyphs">20.361</text>
<text x="511.60" y="26.70" font-size="9.4" font-weight="bold" fill="#000" stroke="#000" stroke-width="0.15" textLength="7.30" lengthAdjust="spacingAndGlyphs">A</text>
<text x="484.10" y="126.10" font-size="7.7" fill="#1e1e1e" stroke="#1e1e1e" stroke-width="0.14" textLength="44.90" lengthAdjust="spacingAndGlyphs">Man-RNase  A</text>
<text x="501.30" y="164.10" font-size="7.5" fill="#ff1a1a" stroke="#ff1a1a" stroke-width="0.14" textLength="28.10" lengthAdjust="spacingAndGlyphs">RNase A</text>
<polygon points="72.0,371 72.5,336 73.0,270 73.4,197 73.8,197 74.2,270 74.8,336 75.3,364" fill="#e2e2e2"/>
<line x1="35.50" y1="195.3" x2="35.50" y2="372.20" stroke="#d4d4d4" stroke-width="1"/>
<line x1="35.50" y1="372.20" x2="282.00" y2="372.20" stroke="#d0d0d0" stroke-width="1.2"/>
<line x1="33.30" y1="372.20" x2="35.50" y2="372.20" stroke="#c4c4c4" stroke-width="0.7"/>
<line x1="33.90" y1="363.36" x2="35.50" y2="363.36" stroke="#c4c4c4" stroke-width="0.7"/>
<line x1="33.30" y1="354.52" x2="35.50" y2="354.52" stroke="#c4c4c4" stroke-width="0.7"/>
<line x1="33.90" y1="345.68" x2="35.50" y2="345.68" stroke="#c4c4c4" stroke-width="0.7"/>
<line x1="33.30" y1="336.84" x2="35.50" y2="336.84" stroke="#c4c4c4" stroke-width="0.7"/>
<line x1="33.90" y1="328.00" x2="35.50" y2="328.00" stroke="#c4c4c4" stroke-width="0.7"/>
<line x1="33.90" y1="319.16" x2="35.50" y2="319.16" stroke="#c4c4c4" stroke-width="0.7"/>
<line x1="33.90" y1="310.32" x2="35.50" y2="310.32" stroke="#c4c4c4" stroke-width="0.7"/>
<line x1="33.30" y1="301.48" x2="35.50" y2="301.48" stroke="#c4c4c4" stroke-width="0.7"/>
<line x1="33.90" y1="292.64" x2="35.50" y2="292.64" stroke="#c4c4c4" stroke-width="0.7"/>
<line x1="33.90" y1="283.80" x2="35.50" y2="283.80" stroke="#c4c4c4" stroke-width="0.7"/>
<line x1="33.90" y1="274.96" x2="35.50" y2="274.96" stroke="#c4c4c4" stroke-width="0.7"/>
<line x1="33.30" y1="266.12" x2="35.50" y2="266.12" stroke="#c4c4c4" stroke-width="0.7"/>
<line x1="33.90" y1="257.28" x2="35.50" y2="257.28" stroke="#c4c4c4" stroke-width="0.7"/>
<line x1="33.90" y1="248.44" x2="35.50" y2="248.44" stroke="#c4c4c4" stroke-width="0.7"/>
<line x1="33.90" y1="239.60" x2="35.50" y2="239.60" stroke="#c4c4c4" stroke-width="0.7"/>
<line x1="33.30" y1="230.76" x2="35.50" y2="230.76" stroke="#c4c4c4" stroke-width="0.7"/>
<line x1="33.90" y1="221.92" x2="35.50" y2="221.92" stroke="#c4c4c4" stroke-width="0.7"/>
<line x1="33.90" y1="213.08" x2="35.50" y2="213.08" stroke="#c4c4c4" stroke-width="0.7"/>
<line x1="33.90" y1="204.24" x2="35.50" y2="204.24" stroke="#c4c4c4" stroke-width="0.7"/>
<line x1="33.30" y1="195.40" x2="35.50" y2="195.40" stroke="#c4c4c4" stroke-width="0.7"/>
<text x="24.60" y="197.35" font-size="5.6" fill="#222" stroke="#222" stroke-width="0.2" textLength="7.60" lengthAdjust="spacingAndGlyphs">100</text>
<text x="27.20" y="232.71" font-size="5.6" fill="#222" stroke="#222" stroke-width="0.2" textLength="5.00" lengthAdjust="spacingAndGlyphs">80</text>
<text x="27.20" y="268.07" font-size="5.6" fill="#222" stroke="#222" stroke-width="0.2" textLength="5.00" lengthAdjust="spacingAndGlyphs">60</text>
<text x="27.20" y="303.43" font-size="5.6" fill="#222" stroke="#222" stroke-width="0.2" textLength="5.00" lengthAdjust="spacingAndGlyphs">40</text>
<text x="27.20" y="338.79" font-size="5.6" fill="#222" stroke="#222" stroke-width="0.2" textLength="5.00" lengthAdjust="spacingAndGlyphs">20</text>
<text x="27.20" y="356.47" font-size="5.6" fill="#222" stroke="#222" stroke-width="0.2" textLength="5.00" lengthAdjust="spacingAndGlyphs">10</text>
<text x="29.80" y="374.15" font-size="5.6" fill="#222" stroke="#222" stroke-width="0.2" textLength="2.40" lengthAdjust="spacingAndGlyphs">0</text>
<line x1="35.80" y1="372.20" x2="35.80" y2="373.70" stroke="#c4c4c4" stroke-width="0.7"/>
<text x="29.00" y="380.50" font-size="5.6" fill="#333" stroke="#333" stroke-width="0.1" textLength="13.60" lengthAdjust="spacingAndGlyphs">13400</text>
<line x1="63.07" y1="372.20" x2="63.07" y2="373.70" stroke="#c4c4c4" stroke-width="0.7"/>
<text x="56.27" y="380.50" font-size="5.6" fill="#333" stroke="#333" stroke-width="0.1" textLength="13.60" lengthAdjust="spacingAndGlyphs">13600</text>
<line x1="90.34" y1="372.20" x2="90.34" y2="373.70" stroke="#c4c4c4" stroke-width="0.7"/>
<text x="83.54" y="380.50" font-size="5.6" fill="#333" stroke="#333" stroke-width="0.1" textLength="13.60" lengthAdjust="spacingAndGlyphs">13800</text>
<line x1="117.61" y1="372.20" x2="117.61" y2="373.70" stroke="#c4c4c4" stroke-width="0.7"/>
<text x="110.81" y="380.50" font-size="5.6" fill="#333" stroke="#333" stroke-width="0.1" textLength="13.60" lengthAdjust="spacingAndGlyphs">14000</text>
<line x1="144.88" y1="372.20" x2="144.88" y2="373.70" stroke="#c4c4c4" stroke-width="0.7"/>
<text x="138.08" y="380.50" font-size="5.6" fill="#333" stroke="#333" stroke-width="0.1" textLength="13.60" lengthAdjust="spacingAndGlyphs">14200</text>
<line x1="172.15" y1="372.20" x2="172.15" y2="373.70" stroke="#c4c4c4" stroke-width="0.7"/>
<text x="165.35" y="380.50" font-size="5.6" fill="#333" stroke="#333" stroke-width="0.1" textLength="13.60" lengthAdjust="spacingAndGlyphs">14400</text>
<line x1="199.42" y1="372.20" x2="199.42" y2="373.70" stroke="#c4c4c4" stroke-width="0.7"/>
<text x="192.62" y="380.50" font-size="5.6" fill="#333" stroke="#333" stroke-width="0.1" textLength="13.60" lengthAdjust="spacingAndGlyphs">14600</text>
<line x1="226.69" y1="372.20" x2="226.69" y2="373.70" stroke="#c4c4c4" stroke-width="0.7"/>
<text x="219.89" y="380.50" font-size="5.6" fill="#333" stroke="#333" stroke-width="0.1" textLength="13.60" lengthAdjust="spacingAndGlyphs">14800</text>
<line x1="253.96" y1="372.20" x2="253.96" y2="373.70" stroke="#c4c4c4" stroke-width="0.7"/>
<text x="247.16" y="380.50" font-size="5.6" fill="#333" stroke="#333" stroke-width="0.1" textLength="13.60" lengthAdjust="spacingAndGlyphs">15000</text>
<text x="131.00" y="394.60" font-size="7.2" fill="#222" stroke="#222" stroke-width="0.22" textLength="15.80" lengthAdjust="spacingAndGlyphs">mass</text>
<text transform="translate(22.10,315.0) rotate(-90)" font-size="6.9" fill="#222" stroke="#222" stroke-width="0.2" textLength="65.2" lengthAdjust="spacingAndGlyphs">Relative Abundance</text>
<text x="259.00" y="214.10" font-size="10.4" font-weight="bold" fill="#000" stroke="#000" stroke-width="0.1" textLength="5.50" lengthAdjust="spacingAndGlyphs">B</text>
<path d="M35.40,370.60 L36.50,370.00 L37.60,367.40 L38.60,363.90 L39.70,370.00 L41.00,369.60 L42.20,370.40 L43.50,369.40 L45.00,370.60 L47.00,370.00 L49.00,370.70 L51.80,369.70 L53.50,370.60 L56.00,370.00 L58.00,370.60 L60.00,370.10 L62.00,370.60 L64.00,369.90 L66.00,370.40 L68.00,369.70 L70.00,369.40 L70.90,368.70 L71.70,366.40 L72.40,335.40 L72.90,270.40 L73.35,196.40 L73.75,196.40 L74.20,270.40 L74.80,335.40 L75.40,360.80 L76.60,352.50 L77.90,356.90 L78.80,358.20 L79.80,367.10 L80.80,365.90 L82.40,364.60 L84.30,368.10 L85.60,368.60 L87.50,369.40 L89.50,369.70 L91.50,369.20 L93.20,366.50 L95.10,369.90 L97.00,370.20 L100.00,370.40 L104.00,370.70 L105.00,370.61 L106.60,370.36 L108.20,370.50 L109.80,370.32 L111.40,370.30 L113.00,370.75 L114.60,370.79 L116.20,370.13 L117.80,370.59 L119.40,370.61 L121.00,370.00 L122.60,370.42 L124.20,370.13 L125.80,370.42 L127.40,370.15 L129.00,365.88 L130.60,370.15 L132.20,370.11 L133.80,370.38 L135.40,370.21 L137.00,370.26 L138.60,370.75 L140.20,370.19 L141.80,370.33 L143.40,370.56 L145.00,370.78 L146.60,370.11 L148.20,370.42 L149.80,370.22 L151.40,370.10 L153.00,370.23 L154.60,368.75 L156.20,369.14 L157.80,369.66 L159.40,369.94 L161.00,369.55 L162.60,369.60 L164.20,370.22 L165.80,370.19 L167.40,370.13 L169.00,369.53 L170.60,369.95 L172.20,369.80 L173.80,370.06 L175.40,369.89 L177.00,369.99 L178.60,370.02 L180.20,369.83 L181.80,369.83 L183.40,369.55 L185.00,368.95 L186.60,369.53 L188.20,369.61 L189.80,369.51 L191.40,369.76 L193.00,370.17 L194.60,369.61 L196.20,369.53 L197.80,369.58 L199.40,369.84 L201.00,369.73 L202.60,370.13 L204.20,369.63 L205.80,369.84 L207.40,370.07 L209.00,370.25 L210.60,369.62 L212.20,369.51 L213.80,370.23 L215.40,369.66 L217.00,369.97 L218.60,370.18 L220.20,370.06 L221.80,369.68 L223.40,369.60 L225.00,370.02 L226.60,369.20 L228.20,370.26 L229.80,369.56 L231.40,369.07 L233.00,369.59 L234.60,369.52 L236.20,369.90 L237.80,369.50 L239.40,369.90 L241.00,365.34 L242.60,370.15 L244.20,368.83 L245.80,370.43 L247.40,370.07 L249.00,369.91 L250.60,370.28 L252.20,370.37 L253.80,369.71 L255.40,370.15 L257.00,369.63 L258.60,369.68 L260.20,370.10 L261.80,369.99 L263.40,366.79 L265.00,370.04 L266.60,369.42 L268.20,369.45 L269.80,369.40 L271.40,369.15 L273.00,369.49 L274.60,369.56 L276.20,370.22 L277.80,370.61 L279.40,370.56 L281.00,370.02" fill="none" stroke="#999" stroke-width="0.75" stroke-linejoin="round"/>
<text x="63.50" y="192.90" font-size="6.6" fill="#222" stroke="#222" stroke-width="0.18" textLength="20.50" lengthAdjust="spacingAndGlyphs">13681.0</text>
<line x1="301.90" y1="195.3" x2="301.90" y2="372.20" stroke="#d4d4d4" stroke-width="1"/>
<line x1="301.90" y1="372.20" x2="548.40" y2="372.20" stroke="#d0d0d0" stroke-width="1.2"/>
<line x1="299.70" y1="372.20" x2="301.90" y2="372.20" stroke="#c4c4c4" stroke-width="0.7"/>
<line x1="300.30" y1="363.36" x2="301.90" y2="363.36" stroke="#c4c4c4" stroke-width="0.7"/>
<line x1="299.70" y1="354.52" x2="301.90" y2="354.52" stroke="#c4c4c4" stroke-width="0.7"/>
<line x1="300.30" y1="345.68" x2="301.90" y2="345.68" stroke="#c4c4c4" stroke-width="0.7"/>
<line x1="299.70" y1="336.84" x2="301.90" y2="336.84" stroke="#c4c4c4" stroke-width="0.7"/>
<line x1="300.30" y1="328.00" x2="301.90" y2="328.00" stroke="#c4c4c4" stroke-width="0.7"/>
<line x1="300.30" y1="319.16" x2="301.90" y2="319.16" stroke="#c4c4c4" stroke-width="0.7"/>
<line x1="300.30" y1="310.32" x2="301.90" y2="310.32" stroke="#c4c4c4" stroke-width="0.7"/>
<line x1="299.70" y1="301.48" x2="301.90" y2="301.48" stroke="#c4c4c4" stroke-width="0.7"/>
<line x1="300.30" y1="292.64" x2="301.90" y2="292.64" stroke="#c4c4c4" stroke-width="0.7"/>
<line x1="300.30" y1="283.80" x2="301.90" y2="283.80" stroke="#c4c4c4" stroke-width="0.7"/>
<line x1="300.30" y1="274.96" x2="301.90" y2="274.96" stroke="#c4c4c4" stroke-width="0.7"/>
<line x1="299.70" y1="266.12" x2="301.90" y2="266.12" stroke="#c4c4c4" stroke-width="0.7"/>
<line x1="300.30" y1="257.28" x2="301.90" y2="257.28" stroke="#c4c4c4" stroke-width="0.7"/>
<line x1="300.30" y1="248.44" x2="301.90" y2="248.44" stroke="#c4c4c4" stroke-width="0.7"/>
<line x1="300.30" y1="239.60" x2="301.90" y2="239.60" stroke="#c4c4c4" stroke-width="0.7"/>
<line x1="299.70" y1="230.76" x2="301.90" y2="230.76" stroke="#c4c4c4" stroke-width="0.7"/>
<line x1="300.30" y1="221.92" x2="301.90" y2="221.92" stroke="#c4c4c4" stroke-width="0.7"/>
<line x1="300.30" y1="213.08" x2="301.90" y2="213.08" stroke="#c4c4c4" stroke-width="0.7"/>
<line x1="300.30" y1="204.24" x2="301.90" y2="204.24" stroke="#c4c4c4" stroke-width="0.7"/>
<line x1="299.70" y1="195.40" x2="301.90" y2="195.40" stroke="#c4c4c4" stroke-width="0.7"/>
<text x="291.00" y="197.35" font-size="5.6" fill="#222" stroke="#222" stroke-width="0.2" textLength="7.60" lengthAdjust="spacingAndGlyphs">100</text>
<text x="293.60" y="232.71" font-size="5.6" fill="#222" stroke="#222" stroke-width="0.2" textLength="5.00" lengthAdjust="spacingAndGlyphs">80</text>
<text x="293.60" y="268.07" font-size="5.6" fill="#222" stroke="#222" stroke-width="0.2" textLength="5.00" lengthAdjust="spacingAndGlyphs">60</text>
<text x="293.60" y="303.43" font-size="5.6" fill="#222" stroke="#222" stroke-width="0.2" textLength="5.00" lengthAdjust="spacingAndGlyphs">40</text>
<text x="293.60" y="338.79" font-size="5.6" fill="#222" stroke="#222" stroke-width="0.2" textLength="5.00" lengthAdjust="spacingAndGlyphs">20</text>
<text x="293.60" y="356.47" font-size="5.6" fill="#222" stroke="#222" stroke-width="0.2" textLength="5.00" lengthAdjust="spacingAndGlyphs">10</text>
<text x="296.20" y="374.15" font-size="5.6" fill="#222" stroke="#222" stroke-width="0.2" textLength="2.40" lengthAdjust="spacingAndGlyphs">0</text>
<line x1="302.20" y1="372.20" x2="302.20" y2="373.70" stroke="#c4c4c4" stroke-width="0.7"/>
<text x="295.40" y="380.50" font-size="5.6" fill="#333" stroke="#333" stroke-width="0.1" textLength="13.60" lengthAdjust="spacingAndGlyphs">13400</text>
<line x1="329.47" y1="372.20" x2="329.47" y2="373.70" stroke="#c4c4c4" stroke-width="0.7"/>
<text x="322.67" y="380.50" font-size="5.6" fill="#333" stroke="#333" stroke-width="0.1" textLength="13.60" lengthAdjust="spacingAndGlyphs">13600</text>
<line x1="356.74" y1="372.20" x2="356.74" y2="373.70" stroke="#c4c4c4" stroke-width="0.7"/>
<text x="349.94" y="380.50" font-size="5.6" fill="#333" stroke="#333" stroke-width="0.1" textLength="13.60" lengthAdjust="spacingAndGlyphs">13800</text>
<line x1="384.01" y1="372.20" x2="384.01" y2="373.70" stroke="#c4c4c4" stroke-width="0.7"/>
<text x="377.21" y="380.50" font-size="5.6" fill="#333" stroke="#333" stroke-width="0.1" textLength="13.60" lengthAdjust="spacingAndGlyphs">14000</text>
<line x1="411.28" y1="372.20" x2="411.28" y2="373.70" stroke="#c4c4c4" stroke-width="0.7"/>
<text x="404.48" y="380.50" font-size="5.6" fill="#333" stroke="#333" stroke-width="0.1" textLength="13.60" lengthAdjust="spacingAndGlyphs">14200</text>
<line x1="438.55" y1="372.20" x2="438.55" y2="373.70" stroke="#c4c4c4" stroke-width="0.7"/>
<text x="431.75" y="380.50" font-size="5.6" fill="#333" stroke="#333" stroke-width="0.1" textLength="13.60" lengthAdjust="spacingAndGlyphs">14400</text>
<line x1="465.82" y1="372.20" x2="465.82" y2="373.70" stroke="#c4c4c4" stroke-width="0.7"/>
<text x="459.02" y="380.50" font-size="5.6" fill="#333" stroke="#333" stroke-width="0.1" textLength="13.60" lengthAdjust="spacingAndGlyphs">14600</text>
<line x1="493.09" y1="372.20" x2="493.09" y2="373.70" stroke="#c4c4c4" stroke-width="0.7"/>
<text x="486.29" y="380.50" font-size="5.6" fill="#333" stroke="#333" stroke-width="0.1" textLength="13.60" lengthAdjust="spacingAndGlyphs">14800</text>
<line x1="520.36" y1="372.20" x2="520.36" y2="373.70" stroke="#c4c4c4" stroke-width="0.7"/>
<text x="513.56" y="380.50" font-size="5.6" fill="#333" stroke="#333" stroke-width="0.1" textLength="13.60" lengthAdjust="spacingAndGlyphs">15000</text>
<text x="397.40" y="394.60" font-size="7.2" fill="#222" stroke="#222" stroke-width="0.22" textLength="15.80" lengthAdjust="spacingAndGlyphs">mass</text>
<text transform="translate(288.50,315.0) rotate(-90)" font-size="6.9" fill="#222" stroke="#222" stroke-width="0.2" textLength="65.2" lengthAdjust="spacingAndGlyphs">Relative Abundance</text>
<text x="521.70" y="214.10" font-size="10.4" font-weight="bold" fill="#000" stroke="#000" stroke-width="0.1" textLength="5.50" lengthAdjust="spacingAndGlyphs">C</text>
<path d="M301.50,362.90 L303.00,364.50 L305.00,366.50 L307.30,362.70 L309.50,365.00 L312.00,367.00 L314.00,364.50 L316.00,362.70 L318.00,365.00 L320.00,366.70 L321.80,365.80 L323.40,364.40 L325.30,366.70 L327.00,363.50 L329.60,366.70 L331.50,363.90 L333.10,366.70 L335.20,361.60 L336.80,359.10 L337.80,366.50 L338.50,350.00 L339.00,335.00 L339.45,328.50 L339.90,335.00 L340.40,352.00 L340.70,362.90 L342.40,364.20 L344.50,363.50 L346.50,366.10 L349.00,367.00 L351.00,366.10 L353.50,367.00 L356.00,366.10 L359.20,363.50 L361.50,366.70 L364.30,366.10 L366.20,364.80 L367.50,356.70 L369.20,363.00 L369.80,330.00 L370.40,280.00 L370.85,251.20 L371.30,280.00 L371.90,330.00 L372.50,357.40 L374.50,362.50 L376.00,363.70 L379.00,365.00 L382.00,366.90 L384.00,362.50 L386.00,366.30 L388.50,367.50 L391.00,366.90 L393.00,363.70 L395.50,367.50 L398.50,359.30 L400.00,363.70 L400.60,330.00 L401.30,270.00 L402.00,196.20 L402.60,270.00 L403.30,330.00 L403.60,352.30 L405.00,359.90 L407.00,360.50 L409.00,363.70 L411.00,364.10 L413.00,365.60 L416.00,366.30 L419.00,366.30 L421.30,361.20 L423.50,364.40 L426.00,363.70 L428.00,365.00 L430.50,358.60 L432.00,361.20 L432.50,330.00 L433.10,280.00 L433.60,243.30 L434.10,280.00 L434.70,330.00 L435.00,348.50 L436.50,353.50 L438.00,359.30 L440.00,362.50 L443.00,363.30 L445.00,361.80 L447.00,361.20 L450.00,363.30 L453.50,365.40 L455.50,364.10 L459.00,364.60 L461.00,364.40 L462.50,360.50 L463.50,361.80 L464.00,335.00 L464.50,305.00 L464.95,286.80 L465.40,305.00 L466.00,335.00 L466.50,356.10 L468.00,358.00 L470.00,361.20 L472.00,362.80 L475.00,364.40 L478.00,365.00 L482.00,365.60 L486.00,365.90 L489.00,366.30 L492.00,364.40 L494.50,363.80 L495.30,345.00 L495.80,335.00 L496.30,327.40 L496.80,335.00 L497.40,348.00 L498.00,360.40 L500.00,361.50 L501.00,360.00 L503.00,365.20 L505.00,360.80 L507.00,365.70 L509.00,364.60 L511.50,366.50 L514.00,366.00 L516.50,366.90 L518.00,364.60 L520.00,366.90 L522.00,362.30 L523.50,364.00 L525.00,358.90 L526.00,356.70 L527.50,350.20 L528.50,357.20 L529.50,364.00 L531.00,365.20 L532.50,359.30 L533.50,365.20 L535.00,366.00 L538.00,366.30 L539.50,353.30 L541.00,358.40 L542.00,362.90 L543.50,359.30 L545.00,362.90 L546.50,366.00 L548.00,366.50" fill="none" stroke="#999" stroke-width="0.75" stroke-linejoin="round"/>
<text x="329.00" y="325.40" font-size="6.6" fill="#222" stroke="#222" stroke-width="0.18" textLength="21.20" lengthAdjust="spacingAndGlyphs">13682.0</text>
<text x="360.70" y="248.10" font-size="6.6" fill="#222" stroke="#222" stroke-width="0.18" textLength="20.40" lengthAdjust="spacingAndGlyphs">13918.0</text>
<text x="391.30" y="192.70" font-size="6.6" fill="#222" stroke="#222" stroke-width="0.18" textLength="21.50" lengthAdjust="spacingAndGlyphs">14153.0</text>
<text x="423.00" y="241.30" font-size="6.6" fill="#222" stroke="#222" stroke-width="0.18" textLength="20.90" lengthAdjust="spacingAndGlyphs">14388.0</text>
<text x="454.00" y="285.30" font-size="6.6" fill="#222" stroke="#222" stroke-width="0.18" textLength="21.40" lengthAdjust="spacingAndGlyphs">14624.0</text>
<text x="486.00" y="325.00" font-size="6.6" fill="#222" stroke="#222" stroke-width="0.18" textLength="20.80" lengthAdjust="spacingAndGlyphs">14859.0</text>
</svg>
</body></html>
